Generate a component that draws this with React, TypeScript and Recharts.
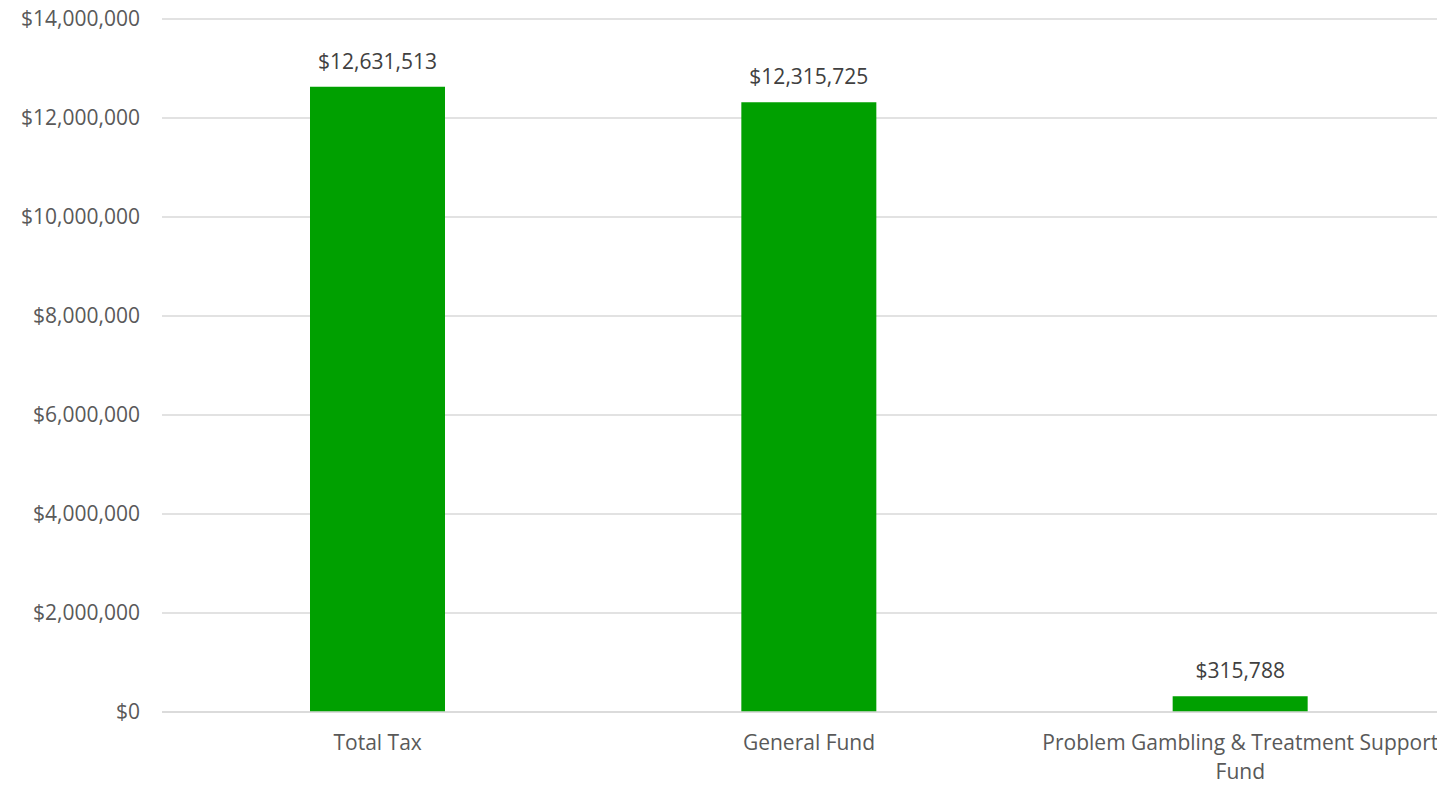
import React from "react";
import { BarChart, Bar, XAxis, YAxis, CartesianGrid, LabelList } from "recharts";

const categories = ["Total Tax", "General Fund", "Problem Gambling & Treatment Support Fund"];
const amounts = [12631513, 12315725, 315788];
const yTicks = [0, 2000000, 4000000, 6000000, 8000000, 10000000, 12000000, 14000000];

const data = categories.map((name, i) => ({ name, value: amounts[i] }));

const FONT = "'Open Sans', 'Liberation Sans', sans-serif";
const TEXT = "#595959";
const fmt = (v: number) => "$" + v.toLocaleString("en-US");

function wrap(s: string, maxChars: number): string[] {
  const words = s.split(" ");
  const lines: string[] = [];
  let cur = "";
  for (const w of words) {
    const next = cur ? cur + " " + w : w;
    if (next.length > maxChars && cur) {
      lines.push(cur);
      cur = w;
    } else cur = next;
  }
  if (cur) lines.push(cur);
  return lines;
}

const XTick = (props: any) => {
  const { x, y, payload } = props;
  const lines = wrap(String(payload.value), 36);
  return (
    <g>
      {lines.map((l, i) => (
        <text
          key={i}
          x={x}
          y={y + 30 + i * 29}
          textAnchor="middle"
          fill={TEXT}
          fontSize={21}
          fontFamily={FONT}
        >
          {l}
        </text>
      ))}
    </g>
  );
};

export default function App() {
  return (
    <div
      style={{
        position: "absolute",
        left: 0,
        top: 0,
        width: 1437,
        height: 785,
        overflow: "hidden",
        background: "#fff",
      }}
    >
      <BarChart
        width={1456}
        height={785}
        data={data}
        margin={{ top: 19, right: 0, bottom: 0, left: 0 }}
      >
        <CartesianGrid vertical={false} stroke="#d9d9d9" strokeWidth={1.5} />
        <XAxis
          dataKey="name"
          height={73}
          interval={0}
          tickLine={false}
          axisLine={{ stroke: "#d9d9d9", strokeWidth: 1.5 }}
          tick={<XTick />}
        />
        <YAxis
          width={162}
          domain={[0, 14000000]}
          ticks={yTicks}
          axisLine={false}
          tickLine={false}
          tickSize={0}
          tickMargin={22}
          tickFormatter={fmt}
          tick={{ fill: TEXT, fontSize: 21, fontFamily: FONT }}
        />
        <Bar dataKey="value" fill="#00a000" barSize={135} isAnimationActive={false}>
          <LabelList
            dataKey="value"
            position="top"
            offset={18}
            formatter={(v: any) => fmt(Number(v))}
            fill="#404040"
            fontSize={21}
            fontFamily={FONT}
          />
        </Bar>
      </BarChart>
    </div>
  );
}
